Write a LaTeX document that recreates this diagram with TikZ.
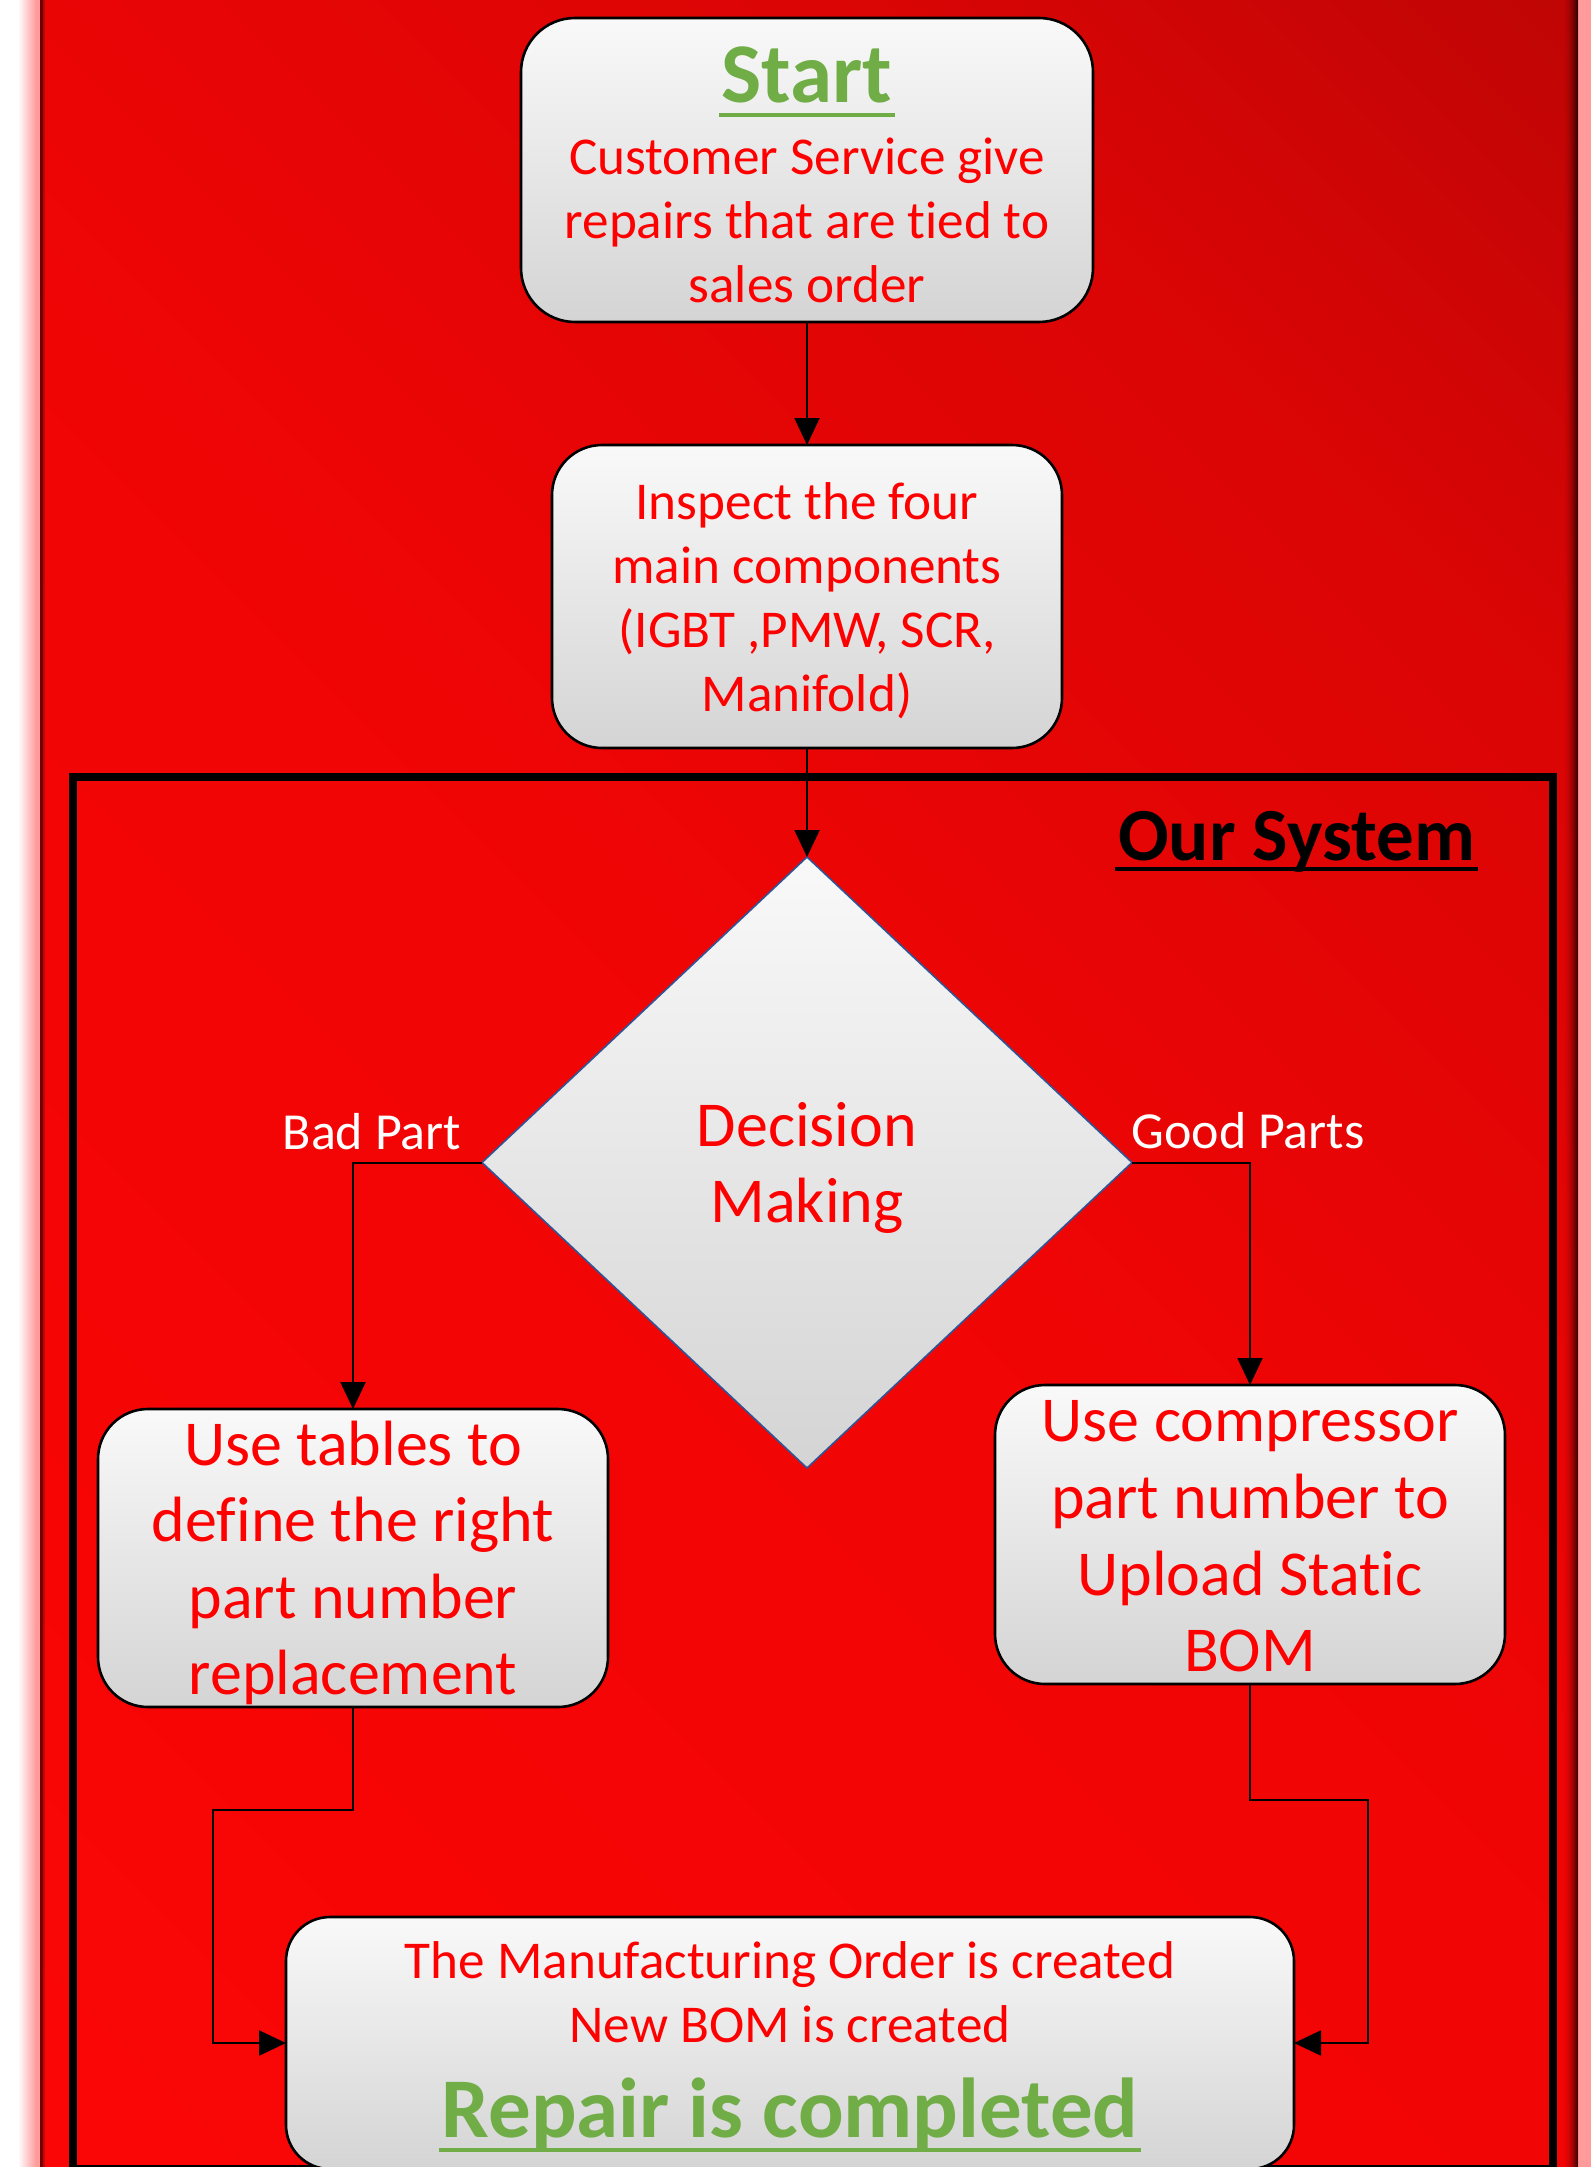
\documentclass[tikz,border=0pt]{standalone}
\usepackage{fontspec}
\setmainfont{Carlito}[Ligatures={NoCommon}]
\usetikzlibrary{shapes.geometric,arrows.meta}
\definecolor{txtred}{RGB}{255,0,0}
\definecolor{grn}{RGB}{112,173,71}
\definecolor{pinkglow}{RGB}{255,155,155}
\definecolor{bgA}{RGB}{255,6,6}
\definecolor{bgB}{RGB}{240,5,5}
\definecolor{bgC}{RGB}{218,5,5}
\definecolor{bgD}{RGB}{192,5,5}
\definecolor{bgE}{RGB}{165,2,2}
\definecolor{dblue}{RGB}{47,85,151}
\definecolor{boxtop}{RGB}{249,249,249}
\definecolor{boxbot}{RGB}{212,212,212}
\pgfdeclareverticalshading{bgred}{100bp}{color(0bp)=(bgA); color(50bp)=(bgB); color(72bp)=(bgC); color(85bp)=(bgD); color(100bp)=(bgE)}
\tikzset{
  procbox/.style={draw=black, line width=1.3pt, rounded corners=#1, top color=boxtop, bottom color=boxbot, inner sep=0pt, outer sep=0pt},
  decbox/.style={diamond, draw=dblue, line width=0.8pt, top color=boxtop, bottom color=boxbot, inner sep=0pt, outer sep=0pt},
  bodytxt/.style={text=txtred, font=\fontsize{26.6}{31.75}\selectfont, inner sep=0pt, anchor=base},
  bigtxt/.style={text=txtred, font=\fontsize{32}{38}\selectfont, inner sep=0pt, anchor=base},
  titletxt/.style={text=grn, font=\fontsize{42.5}{50}\selectfont\bfseries, inner sep=0pt, anchor=base},
  lbltxt/.style={text=white, font=\fontsize{26}{30}\selectfont, inner sep=0pt, anchor=base},
  systxt/.style={text=black, font=\fontsize{37.5}{44}\selectfont\bfseries, inner sep=0pt, anchor=base},
  conn/.style={draw=black, line width=1pt, -{Triangle[length=13.5pt,width=12.5pt]}},
  uline/.style={line width=2pt}
}
\begin{document}
\begin{tikzpicture}[x=0.5pt, y=-0.5pt]
\useasboundingbox (0,0) rectangle (1591,2167);
% background
\fill[white] (0,0) rectangle (1591,2167);
\shade[left color=white, right color=pinkglow] (18,0) rectangle (36,2167);
\fill[pinkglow] (36,0) rectangle (41,2167);
\fill[pinkglow] (1577,0) rectangle (1591,2167);
\shade[shading=bgred, shading angle=-45] (40,0) rectangle (1578,2167);
\foreach \i [evaluate=\i as \op using 0.7*(\i/15)^2] in {0,...,15}
  {\fill[black, opacity=\op] ({1562+\i},0) rectangle ({1563+\i},2167);}
\fill[black, opacity=0.55] (40,0) rectangle (42.5,2167);
\fill[black, opacity=0.2] (42.5,0) rectangle (45,2167);
% system frame
\draw[line width=4pt] (73,776.5) rectangle (1553,2169);
\node[systxt] (sys) at (1296.5,860) {Our System};
\draw[uline, black] ([xshift=-1.5pt,yshift=-4.5pt]sys.base west) -- ([xshift=1.5pt,yshift=-4.5pt]sys.base east);
% start box
\node[procbox=27pt, minimum width=286pt, minimum height=152pt] (start) at (807,170) {};
\node[titletxt] (tstart) at (807,103) {Start};
\draw[uline, grn] ([xshift=-1pt,yshift=-6pt]tstart.base west) -- ([xshift=1pt,yshift=-6pt]tstart.base east);
\node[bodytxt] (s1) at (807,175) {Customer Service give};
\node[bodytxt] (s2) at (807,238.5) {repairs that are tied to};
\node[bodytxt] (s3) at (807,302) {sales order};
% inspect box
\node[procbox=25pt, minimum width=255pt, minimum height=151.5pt] (insp) at (807,596.5) {};
\node[bodytxt] (i1) at (807,519) {Inspect the four};
\node[bodytxt] (i2) at (807,583) {main components};
\node[bodytxt] (i3) at (807,647) {(IGBT ,PMW, SCR,};
\node[bodytxt] (i4) at (807,711) {Manifold)};
% decision
\node[decbox, minimum width=325pt, minimum height=305.5pt] (dec) at (807,1162.5) {};
\node[bigtxt] (d1) at (807,1146) {Decision};
\node[bigtxt] (d2) at (807,1222.5) {Making};
\node[lbltxt] (bad) at (372,1149) {Bad Part};
\node[lbltxt] (good) at (1248,1148) {Good Parts};
% left box
\node[procbox=25pt, minimum width=255pt, minimum height=149pt] (lbox) at (353,1558) {};
\node[bigtxt] (l1) at (353,1465) {Use tables to};
\node[bigtxt] (l2) at (353,1541.5) {define the right};
\node[bigtxt] (l3) at (353,1618) {part number};
\node[bigtxt] (l4) at (353,1694.5) {replacement};
% right box
\node[procbox=25pt, minimum width=255pt, minimum height=149.5pt] (rbox) at (1250,1534.5) {};
\node[bigtxt] (r1) at (1250,1441) {Use compressor};
\node[bigtxt] (r2) at (1250,1518) {part number to};
\node[bigtxt] (r3) at (1250,1595) {Upload Static};
\node[bigtxt] (r4) at (1250,1671) {BOM};
% final box
\node[procbox=22pt, minimum width=504pt, minimum height=126pt] (fin) at (790,2043) {};
\node[bodytxt] (f1) at (790,1978) {The Manufacturing Order is created};
\node[bodytxt] (f2) at (790,2042) {New BOM is created};
\node[titletxt] (f3) at (790,2137) {Repair is completed};
\draw[uline, grn] ([xshift=-1pt,yshift=-6.25pt]f3.base west) -- ([xshift=1pt,yshift=-6.25pt]f3.base east);
% connectors
\coordinate (c1) at (213,1810);
\coordinate (c2) at (1368,1800);
\draw[conn] (start.south) -- (insp.north);
\draw[conn] (insp.south) -- (dec.north);
\draw[conn] (dec.west) -| (lbox.north);
\draw[conn] (dec.east) -| (rbox.north);
\draw[conn] (lbox.south) |- (c1) |- (fin.west);
\draw[conn] (rbox.south) |- (c2) |- (fin.east);
\end{tikzpicture}
\end{document}
